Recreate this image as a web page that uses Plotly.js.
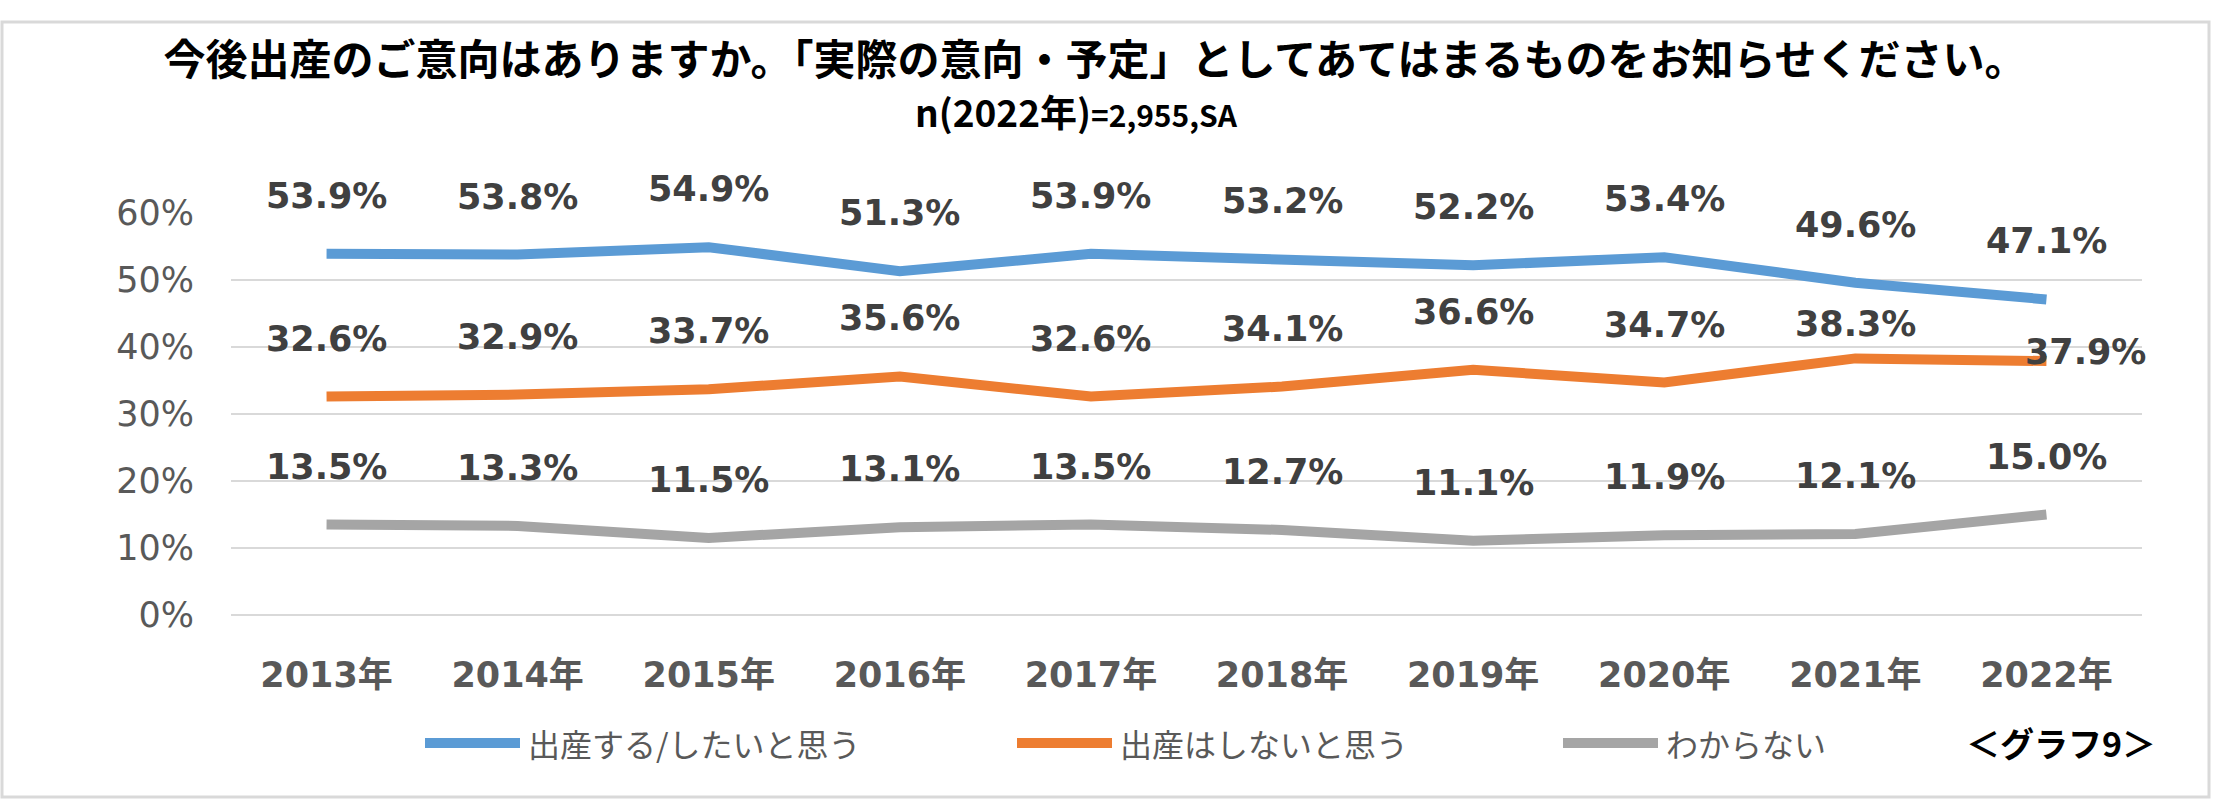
<!DOCTYPE html>
<html>
<head>
<meta charset="utf-8">
<script src="https://cdn.plot.ly/plotly-3.0.1.min.js"></script>
<style>
  html, body { margin: 0; padding: 0; background: #ffffff; }
  #chart { width: 2213px; height: 801px; }
</style>
</head>
<body>
<div id="chart"></div>
<script>
// ---- data ----
const years = ['2013年', '2014年', '2015年', '2016年', '2017年', '2018年', '2019年', '2020年', '2021年', '2022年'];
const seriesNames = ['出産する/したいと思う', '出産はしないと思う', 'わからない'];
const wantBirth = [53.9, 53.8, 54.9, 51.3, 53.9, 53.2, 52.2, 53.4, 49.6, 47.1];
const noBirth = [32.6, 32.9, 33.7, 35.6, 32.6, 34.1, 36.6, 34.7, 38.3, 37.9];
const dontKnow = [13.5, 13.3, 11.5, 13.1, 13.5, 12.7, 11.1, 11.9, 12.1, 15.0];
const yTickValues = [0, 10, 20, 30, 40, 50, 60];
const yTickLabels = ['0%', '10%', '20%', '30%', '40%', '50%', '60%'];
const titleText = '今後出産のご意向はありますか。「実際の意向・予定」としてあてはまるものをお知らせください。';
const subtitleMain = 'n(2022年)';
const subtitleRest = '=2,955,SA';
const graphTag = '＜グラフ9＞';

// ---- styling / layout ----
const W = 2213, H = 801;
const M = { l: 231, r: 71, t: 213, b: 186 };
const PW = W - M.l - M.r, PH = H - M.t - M.b;
const px = x => (x - M.l) / PW;          // pixel -> paper x
const py = y => (H - M.b - y) / PH;      // pixel -> paper y

const colors = ['#5B9BD5', '#ED7D31', '#A5A5A5'];
const allSeries = [wantBirth, noBirth, dontKnow];
const numFont = 'DejaVu Sans, Noto Sans CJK JP, sans-serif';
const jpFont = 'Noto Sans CJK JP, sans-serif';

const traces = allSeries.map((vals, i) => ({
  type: 'scatter',
  mode: 'lines',
  x: years,
  y: vals,
  name: seriesNames[i],
  line: { color: colors[i], width: 10, shape: 'linear' },
  showlegend: false,
  hoverinfo: 'skip'
}));

// data labels (label offsets in px; a few were moved by hand in the source)
const specialOffsets = { '1-8': [0, 34], '1-9': [39, 9] };
const annotations = [];
allSeries.forEach((vals, s) => {
  vals.forEach((v, i) => {
    const off = specialOffsets[s + '-' + i] || [0, 58];
    annotations.push({
      x: years[i], y: v, xref: 'x', yref: 'y',
      text: v.toFixed(1) + '%',
      showarrow: false, xanchor: 'center', yanchor: 'middle',
      xshift: off[0], yshift: off[1],
      font: { family: numFont, size: 35, color: '#404040', weight: 700 }
    });
  });
});

// subtitle
annotations.push({
  xref: 'paper', yref: 'paper', x: px(1076), y: py(111),
  xanchor: 'center', yanchor: 'middle', showarrow: false,
  text: subtitleMain + '<span style="font-size:30px">' + subtitleRest + '</span>',
  font: { family: jpFont, size: 37, color: '#000000', weight: 700 }
});

// graph tag
annotations.push({
  xref: 'paper', yref: 'paper', x: px(2158), y: py(742),
  xanchor: 'right', yanchor: 'middle', showarrow: false,
  text: graphTag,
  font: { family: jpFont, size: 34, color: '#000000', weight: 700 }
});

// custom legend (long line samples like the source)
const legendStarts = [425, 1017, 1563];
const sampleLen = 95;
const legendY = 743;
const shapes = [];
seriesNames.forEach((name, i) => {
  shapes.push({
    type: 'line', xref: 'paper', yref: 'paper',
    x0: px(legendStarts[i]), x1: px(legendStarts[i] + sampleLen),
    y0: py(legendY), y1: py(legendY),
    line: { color: colors[i], width: 10 }
  });
  annotations.push({
    xref: 'paper', yref: 'paper',
    x: px(legendStarts[i] + sampleLen + 6), y: py(legendY),
    xanchor: 'left', yanchor: 'middle', showarrow: false,
    text: name,
    font: { family: jpFont, size: 32, color: '#595959' }
  });
});

// outer border
shapes.push({
  type: 'rect', xref: 'paper', yref: 'paper', layer: 'below',
  x0: px(2), x1: px(2209), y0: py(797), y1: py(22),
  line: { color: '#D9D9D9', width: 3 }, fillcolor: 'rgba(0,0,0,0)'
});

const layout = {
  width: W, height: H,
  margin: M,
  paper_bgcolor: '#ffffff',
  plot_bgcolor: '#ffffff',
  showlegend: false,
  title: {
    text: titleText,
    xref: 'container', yref: 'container',
    x: 1095 / W, y: 1 - 60 / H,
    xanchor: 'center', yanchor: 'middle',
    font: { family: jpFont, size: 42, color: '#000000', weight: 700 }
  },
  xaxis: {
    type: 'category',
    range: [-0.5, years.length - 0.5],
    showgrid: false, zeroline: false, showline: false,
    ticks: '',
    ticklabelstandoff: 36,
    tickfont: { family: numFont, size: 35, color: '#595959', weight: 700 },
    fixedrange: true
  },
  yaxis: {
    range: [0, 60],
    tickmode: 'array',
    tickvals: yTickValues,
    ticktext: yTickLabels,
    showgrid: true, gridcolor: '#D9D9D9', gridwidth: 2.5,
    zeroline: true, zerolinecolor: '#D9D9D9', zerolinewidth: 2.5,
    showline: false, ticks: '',
    ticklabelstandoff: 36,
    tickfont: { family: numFont, size: 35, color: '#595959' },
    fixedrange: true
  },
  annotations: annotations,
  shapes: shapes
};

Plotly.newPlot('chart', traces, layout, { displayModeBar: false, staticPlot: true });
</script>
</body>
</html>
